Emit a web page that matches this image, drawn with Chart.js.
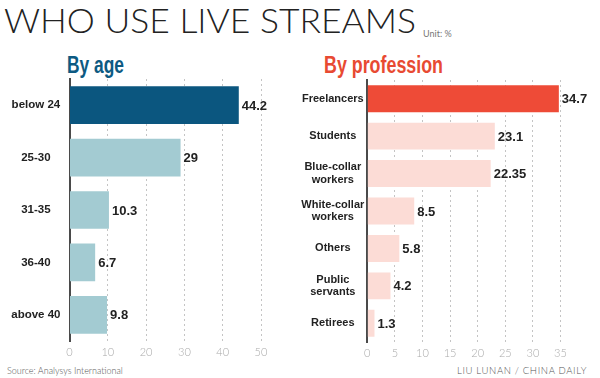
<!DOCTYPE html>
<html><head><meta charset="utf-8">
<script src="https://cdn.jsdelivr.net/npm/chart.js@4"></script>
<style>
html,body{margin:0;padding:0;background:#fff;}
#wrap{position:relative;width:600px;height:378px;overflow:hidden;background:#fff;}
.t{position:absolute;white-space:nowrap;line-height:1;transform-origin:0 0;}
#title{left:4px;top:4px;font-family:Lato,'Open Sans',sans-serif;font-weight:300;font-size:33px;color:#222;}
#unit{left:423px;top:29px;font-family:Lato,sans-serif;font-weight:400;font-size:9px;color:#777;}
.sub{font-family:'Liberation Sans Narrow','Liberation Sans',sans-serif;font-weight:bold;font-size:23px;}
#age{left:67px;top:54px;color:#0d5a82;}
#prof{left:324px;top:54px;color:#e84a32;}
#src{left:7px;top:366px;font-family:Lato,sans-serif;font-weight:300;font-size:9px;color:#555;}
#credit{left:457px;top:366px;font-family:Lato,sans-serif;font-weight:300;font-size:9px;color:#555;letter-spacing:0.6px;}
canvas{position:absolute;top:0;}
#c1{left:0;}
#c2{left:300px;}
</style></head>
<body><div id="wrap">
<div class="t" id="title">WHO USE LIVE STREAMS</div>
<div class="t" id="unit">Unit: %</div>
<div class="t sub" id="age">By age</div>
<div class="t sub" id="prof">By profession</div>
<div class="t" id="src">Source: Analysys International</div>
<div class="t" id="credit">LIU LUNAN / CHINA DAILY</div>
<canvas id="c1" width="300" height="378"></canvas>
<canvas id="c2" width="300" height="378"></canvas>
</div>
<script>
const ageCategories = ['below 24', '25-30', '31-35', '36-40', 'above 40'];
const ageValues = [44.2, 29, 10.3, 6.7, 9.8];
const ageTickMax = 50, ageTickStep = 10;

const professionCategories = ['Freelancers', 'Students', ['Blue-collar', 'workers'], ['White-collar', 'workers'], 'Others', ['Public', 'servants'], 'Retirees'];
const professionValues = [34.7, 23.1, 22.35, 8.5, 5.8, 4.2, 1.3];
const professionTickMax = 35, professionTickStep = 5;

const labelFont = "'Liberation Sans', Arial, sans-serif";

// squeeze header texts to the reference widths
function fitWidth(id, target) {
  const el = document.getElementById(id);
  const w = el.getBoundingClientRect().width;
  el.style.transform = 'scaleX(' + (target / w) + ')';
}
fitWidth('title', 412);
fitWidth('age', 57);
fitWidth('prof', 119);
fitWidth('credit', 130);

const valueLabels = {
  id: 'valueLabels',
  afterDatasetsDraw(chart) {
    const ctx = chart.ctx;
    const meta = chart.getDatasetMeta(0);
    const vals = chart.data.datasets[0].data;
    ctx.save();
    ctx.font = 'bold 13px ' + labelFont;
    ctx.fillStyle = '#222';
    ctx.textAlign = 'left';
    ctx.textBaseline = 'middle';
    meta.data.forEach((bar, i) => {
      ctx.fillText(String(vals[i]), bar.x + 3, bar.y + 1);
    });
    ctx.restore();
  }
};

function makeChart(id, labels, values, colors, max, step, opts) {
  return new Chart(document.getElementById(id), {
    type: 'bar',
    data: {
      labels: labels,
      datasets: [{
        data: values,
        backgroundColor: colors,
        borderWidth: 0,
        barPercentage: 0.72,
        categoryPercentage: 1
      }]
    },
    options: {
      indexAxis: 'y',
      responsive: false,
      animation: false,
      layout: { padding: { top: opts.top, right: opts.right, left: 0, bottom: 0 } },
      plugins: { legend: { display: false }, tooltip: { enabled: false }, title: { display: false } },
      scales: {
        x: {
          min: 0, max: max,
          ticks: { stepSize: step, color: '#aaa', font: { family: 'Lato', weight: 300, size: 11 }, padding: 5 },
          grid: { color: '#c4c4c4', drawTicks: false, lineWidth: 1 },
          border: { display: false, dash: [2, 3] },
          afterFit(s) { s.height = opts.xh; }
        },
        y: {
          ticks: { color: '#222', font: { family: labelFont, weight: 'bold', size: opts.fs, lineHeight: 1.12 }, crossAlign: 'center', padding: opts.pad },
          grid: { display: false, drawTicks: false },
          border: { color: '#4a4a4a', width: 2 },
          afterFit(s) { s.width = opts.yw; }
        }
      }
    },
    plugins: [valueLabels]
  });
}

const ageColors = ageValues.map((v, i) => i === 0 ? '#0b567f' : '#a3cbd2');
const professionColors = professionValues.map((v, i) => i === 0 ? '#ee4b37' : '#fcdcd6');

makeChart('c1', ageCategories, ageValues, ageColors, ageTickMax, ageTickStep, { top: 79, right: 39, xh: 37, yw: 69.5, pad: 9, fs: 11.5 });
makeChart('c2', professionCategories, professionValues, professionColors, professionTickMax, professionTickStep, { top: 80, right: 39.5, xh: 36, yw: 67.3, pad: 3, fs: 11 });
</script>
</body></html>
